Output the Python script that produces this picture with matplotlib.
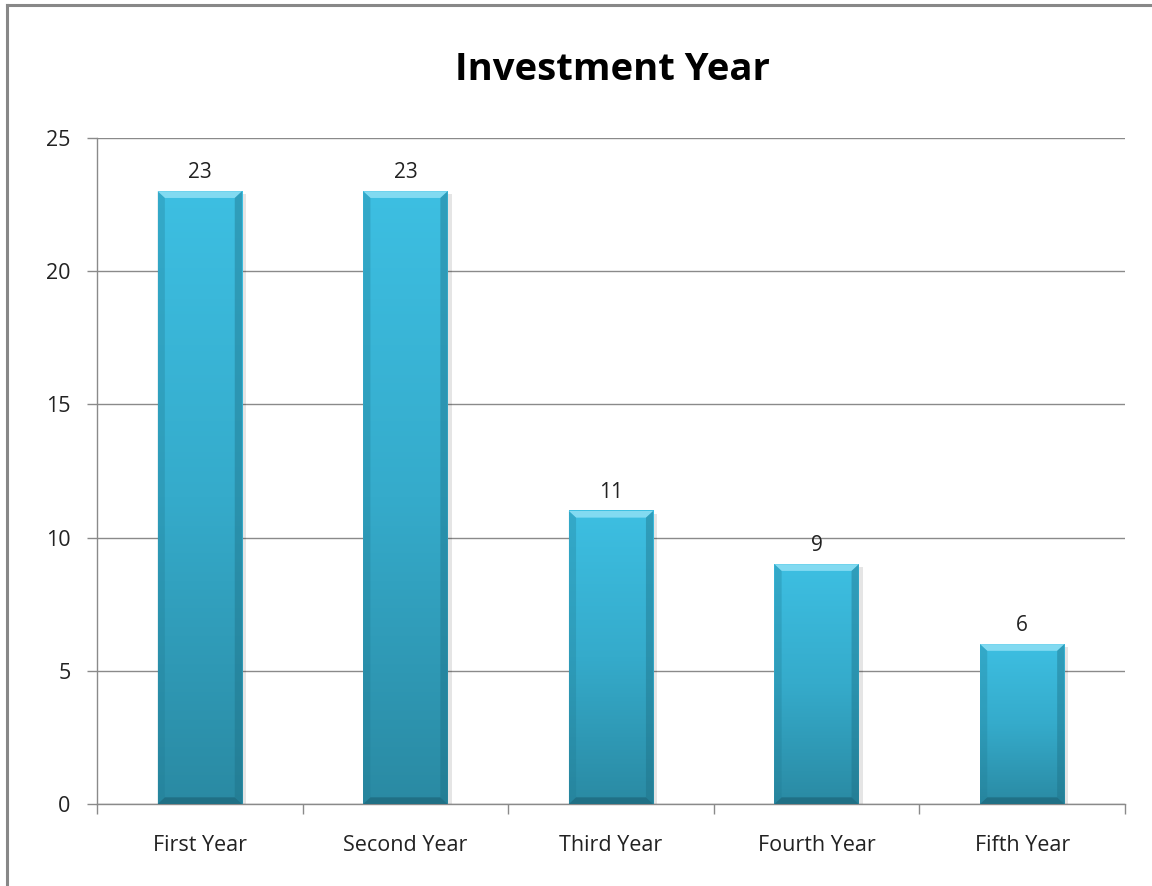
import numpy as np
import matplotlib
matplotlib.use('Agg')
from matplotlib import pyplot as plt
from matplotlib.colors import LinearSegmentedColormap
from matplotlib.patches import Polygon
from matplotlib.lines import Line2D

categories = ['First Year', 'Second Year', 'Third Year', 'Fourth Year', 'Fifth Year']
values = [23, 23, 11, 9, 6]
y_ticks = [0, 5, 10, 15, 20, 25]

plt.rcParams['font.family'] = ['Open Sans', 'DejaVu Sans']

fig = plt.figure(dpi=100, figsize=(11.52, 8.86))
ax = fig.add_axes([97 / 1152, 1 - 804 / 886, 1028 / 1152, 666 / 886])

grad = LinearSegmentedColormap.from_list('bar', ['#2a8aa3', '#35abcb', '#3dbfe2'])
gimg = np.linspace(0, 1, 256).reshape(-1, 1)

bar_w = 0.41
bx, by = 0.035, 0.25
x = np.arange(len(categories))
for xi, v in zip(x, values):
    x0, x1 = xi - bar_w / 2, xi + bar_w / 2
    # soft shadow
    ax.add_patch(Polygon([(x0 + 0.01, -0.05), (x1 + 0.02, -0.05), (x1 + 0.02, v - 0.1), (x0 + 0.01, v - 0.1)],
                         closed=True, facecolor='#000000', alpha=0.1, edgecolor='none', zorder=2))
    ax.imshow(gimg, extent=[x0, x1, 0, v], origin='lower', aspect='auto', cmap=grad, zorder=3)
    # bevel edges
    ax.add_patch(Polygon([(x0, v), (x1, v), (x1 - bx, v - by), (x0 + bx, v - by)],
                         closed=True, facecolor='#8fe0f5', edgecolor='none', alpha=0.85, zorder=4))
    ax.add_patch(Polygon([(x0, 0), (x0, v), (x0 + bx, v - by), (x0 + bx, by)],
                         closed=True, facecolor='#1f7a92', edgecolor='none', alpha=0.3, zorder=4))
    ax.add_patch(Polygon([(x1, 0), (x1, v), (x1 - bx, v - by), (x1 - bx, by)],
                         closed=True, facecolor='#1c6d82', edgecolor='none', alpha=0.4, zorder=4))
    ax.add_patch(Polygon([(x0, 0), (x1, 0), (x1 - bx, by), (x0 + bx, by)],
                         closed=True, facecolor='#1a5f72', edgecolor='none', alpha=0.6, zorder=4))
    ax.text(xi, v + 0.3, str(v), ha='center', va='bottom', fontsize=15, color='#222222')

ax.set_xlim(-0.5, len(categories) - 0.5)
ax.set_ylim(0, 25)
ax.set_yticks(y_ticks)
ax.yaxis.grid(True, color='#8a8a8a', linewidth=1)
ax.set_axisbelow(True)

ax.set_xticks(x)
ax.set_xticklabels(categories)
ax.set_xticks(np.arange(len(categories) + 1) - 0.5, minor=True)
ax.tick_params(axis='x', which='major', length=0, pad=22, labelsize=15.5, colors='#222222')
ax.tick_params(axis='x', which='minor', length=7, width=1, color='#8a8a8a')
ax.tick_params(axis='y', length=7, width=1, color='#8a8a8a', pad=12, labelsize=15.5, labelcolor='#222222')

for s in ['top', 'right']:
    ax.spines[s].set_visible(False)
for s in ['left', 'bottom']:
    ax.spines[s].set_color('#8a8a8a')
    ax.spines[s].set_linewidth(1)

fig.text(612 / 1152, 1 - 70 / 886, 'Investment Year', ha='center', va='center',
         fontsize=27.5, fontweight='bold', color='#000000')

# outer chart border (cropped at right and bottom)
fig.add_artist(Line2D([7 / 1152, 1], [1 - 5 / 886, 1 - 5 / 886], color='#888888', linewidth=2.2))
fig.add_artist(Line2D([7 / 1152, 7 / 1152], [0, 1 - 5 / 886], color='#888888', linewidth=2.2))

fig.savefig('out.png', dpi=100)
